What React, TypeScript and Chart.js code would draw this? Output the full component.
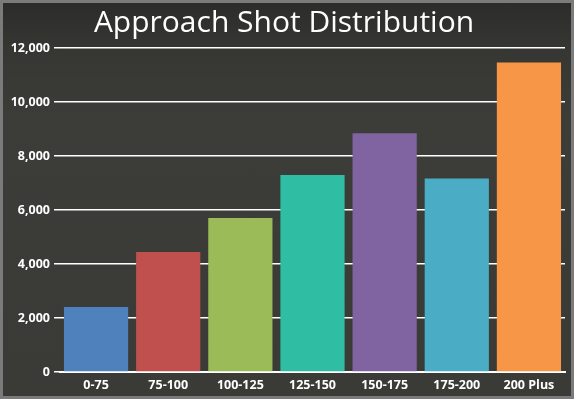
import React, { useEffect, useRef } from "react";
import { Chart, registerables } from "chart.js";

Chart.register(...registerables);

const categories = ["0-75", "75-100", "100-125", "125-150", "150-175", "175-200", "200 Plus"];
const shotCounts = [2410, 4440, 5700, 7300, 8840, 7170, 11460];
const barColors = ["#4f81bd", "#c0504d", "#9bbb59", "#2fbda3", "#8064a2", "#4bacc6", "#f79646"];
const titleText = "Approach Shot Distribution";

export default function App() {
  const ref = useRef<HTMLCanvasElement | null>(null);

  useEffect(() => {
    document.body.style.margin = "0";
    const ctx = ref.current!;
    const chart = new Chart(ctx, {
      type: "bar",
      data: {
        labels: categories,
        datasets: [
          {
            data: shotCounts,
            backgroundColor: barColors,
            borderWidth: 0,
            barPercentage: 0.89,
            categoryPercentage: 1,
          },
        ],
      },
      options: {
        animation: false,
        responsive: false,
        maintainAspectRatio: false,
        layout: { padding: { left: 0, right: 6, top: 0, bottom: 0 } },
        plugins: {
          legend: { display: false },
          tooltip: { enabled: false },
          title: {
            display: true,
            text: titleText,
            color: "#ffffff",
            font: { family: "'Open Sans', sans-serif", size: 30, weight: "normal" },
            padding: { top: 2, bottom: 7 },
          },
        },
        scales: {
          x: {
            grid: { display: false, drawTicks: true, tickLength: 4, tickColor: "#ffffff" },
            border: { display: true, color: "#ffffff", width: 2 },
            ticks: {
              color: "#ffffff",
              font: { family: "'Open Sans', sans-serif", size: 12.5, weight: "bold" },
              padding: 2,
              maxRotation: 0,
            },
            afterFit: (s: any) => {
              s.height = 24;
            },
          },
          y: {
            min: 0,
            max: 12000,
            ticks: {
              stepSize: 2000,
              color: "#ffffff",
              font: { family: "'Open Sans', sans-serif", size: 12.5, weight: "bold" },
              padding: 4,
              callback: (v: any) => Number(v).toLocaleString("en-US"),
            },
            grid: { color: "#ffffff", lineWidth: 1.5, tickLength: 6, tickColor: "#ffffff" },
            border: { display: false },
            afterFit: (s: any) => {
              s.width = 57;
            },
          },
        },
      },
    });
    return () => chart.destroy();
  }, []);

  return (
    <div
      style={{
        position: "absolute",
        left: 0,
        top: 0,
        width: 574,
        height: 399,
        boxSizing: "border-box",
        border: "3px solid #7b7b7b",
        background:
          "linear-gradient(180deg, #2c2d2a 0%, #363733 12%, #3c3d38 30%, #3b3c37 60%, #3a3b36 100%)",
      }}
    >
      <canvas ref={ref} width={568} height={393} style={{ display: "block" }} />
    </div>
  );
}
